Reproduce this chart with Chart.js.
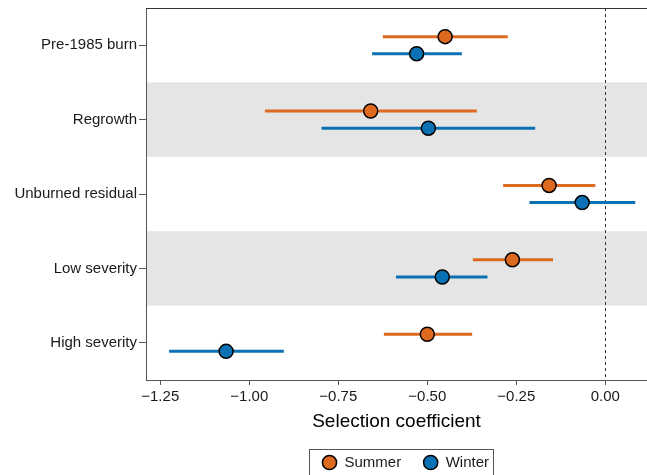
<!DOCTYPE html>
<html>
<head>
<meta charset="utf-8">
<script src="https://cdn.jsdelivr.net/npm/chart.js@4.4.1/dist/chart.umd.min.js"></script>
<style>
  html, body { margin: 0; padding: 0; background: #fff; }
  #wrap { width: 647px; height: 475px; }
</style>
</head>
<body>
<div id="wrap"><canvas id="chart" width="647" height="475"></canvas></div>
<script>
// habitat classes, top to bottom
const CATEGORIES = ['Pre-1985 burn', 'Regrowth', 'Unburned residual', 'Low severity', 'High severity'];

// selection coefficients with interval ends
const SUMMER_EST = [-0.450, -0.659, -0.158, -0.261, -0.500];
const SUMMER_LO = [-0.625, -0.956, -0.287, -0.372, -0.622];
const SUMMER_HI = [-0.274, -0.361, -0.028, -0.147, -0.374];

const WINTER_EST = [-0.530, -0.497, -0.065, -0.458, -1.065];
const WINTER_LO = [-0.655, -0.797, -0.213, -0.588, -1.225];
const WINTER_HI = [-0.403, -0.197, 0.084, -0.331, -0.903];

const X_TICKS = [-1.25, -1.0, -0.75, -0.5, -0.25, 0];
const SHADED_ROWS = [1, 3];

const SUMMER_COLOR = '#DD6A1F';
const WINTER_COLOR = '#0A72B4';
const DODGE = 0.115;
const LEGEND_SHIFT = 9; // ggplot centres the legend a bit right of the canvas middle
const FONT = "'Liberation Sans', Arial, Helvetica, sans-serif";

Chart.defaults.font.family = FONT;

function toPoints(est, lo, hi, shift) {
  return est.map((v, i) => ({ x: v, y: i + shift, lo: lo[i], hi: hi[i] }));
}

const forestPlugin = {
  id: 'forest',
  afterLayout(chart) {
    const lg = chart.legend;
    lg.left += LEGEND_SHIFT;
    lg.right += LEGEND_SHIFT;
    lg.legendHitBoxes.forEach((h) => { h.left += LEGEND_SHIFT; });
  },
  beforeDraw(chart) {
    const { ctx, chartArea: a, scales: { y } } = chart;
    ctx.save();
    ctx.fillStyle = '#e5e5e5';
    SHADED_ROWS.forEach((i) => {
      const t = y.getPixelForValue(i - 0.5);
      const b = y.getPixelForValue(i + 0.5);
      ctx.fillRect(a.left, Math.min(t, b), a.right - a.left, Math.abs(b - t));
    });
    ctx.restore();
  },
  beforeDatasetsDraw(chart) {
    const { ctx, chartArea: a, scales: { x, y } } = chart;
    ctx.save();
    // zero reference
    const zx = Math.round(x.getPixelForValue(0)) + 0.5;
    ctx.strokeStyle = '#333';
    ctx.lineWidth = 1;
    ctx.setLineDash([3, 3]);
    ctx.beginPath();
    ctx.moveTo(zx, a.top);
    ctx.lineTo(zx, a.bottom);
    ctx.stroke();
    ctx.setLineDash([]);
    // interval bars
    chart.data.datasets.forEach((ds) => {
      ctx.strokeStyle = ds.backgroundColor;
      ctx.lineWidth = 3;
      ds.data.forEach((p) => {
        const py = y.getPixelForValue(p.y);
        ctx.beginPath();
        ctx.moveTo(x.getPixelForValue(p.lo), py);
        ctx.lineTo(x.getPixelForValue(p.hi), py);
        ctx.stroke();
      });
    });
    ctx.restore();
  },
  afterDraw(chart) {
    const { ctx, chartArea: a } = chart;
    ctx.save();
    ctx.strokeStyle = '#333';
    ctx.lineWidth = 1;
    ctx.beginPath();
    ctx.moveTo(a.left, a.top + 0.5);
    ctx.lineTo(a.right, a.top + 0.5);
    ctx.stroke();
    // frame round the legend
    const boxes = chart.legend.legendHitBoxes;
    if (boxes.length) {
      const l = boxes[0].left - 13;
      const last = boxes[boxes.length - 1];
      const r = last.left + last.width + 4;
      const t = boxes[0].top - 6;
      const b = boxes[0].top + boxes[0].height + 8;
      ctx.strokeStyle = '#555';
      ctx.strokeRect(Math.round(l) + 0.5, Math.round(t) + 0.5, Math.round(r - l), Math.round(b - t));
    }
    ctx.restore();
  },
};

new Chart(document.getElementById('chart'), {
  type: 'scatter',
  data: {
    datasets: [
      {
        label: 'Summer',
        data: toPoints(SUMMER_EST, SUMMER_LO, SUMMER_HI, -DODGE),
        backgroundColor: SUMMER_COLOR,
        borderColor: '#000',
        borderWidth: 1.5,
        pointRadius: 7,
      },
      {
        label: 'Winter',
        data: toPoints(WINTER_EST, WINTER_LO, WINTER_HI, DODGE),
        backgroundColor: WINTER_COLOR,
        borderColor: '#000',
        borderWidth: 1.5,
        pointRadius: 7,
      },
    ],
  },
  options: {
    responsive: false,
    animation: false,
    layout: { autoPadding: false, padding: { top: 8, left: 0, right: 0, bottom: -5 } },
    scales: {
      x: {
        type: 'linear',
        min: -1.29,
        max: 0.117,
        afterBuildTicks: (s) => { s.ticks = X_TICKS.map((v) => ({ value: v })); },
        afterFit: (s) => { s.height = 53; s.paddingLeft = 0; s.paddingRight = 0; },
        ticks: {
          callback: (v) => v.toFixed(2).replace('-', '\u2212'),
          font: { size: 15 },
          color: '#1a1a1a',
          padding: 3,
          maxRotation: 0,
          autoSkip: false,
        },
        grid: { drawOnChartArea: false, tickLength: 5, color: '#555' },
        border: { color: '#555' },
        title: {
          display: true,
          text: 'Selection coefficient',
          font: { size: 19 },
          color: '#000',
          padding: { top: 4, bottom: 0 },
        },
      },
      y: {
        type: 'linear',
        reverse: true,
        min: -0.5,
        max: 4.5,
        afterBuildTicks: (s) => { s.ticks = CATEGORIES.map((_, i) => ({ value: i })); },
        afterFit: (s) => { s.width = 146; s.paddingTop = 0; s.paddingBottom = 0; },
        ticks: {
          callback: (v) => CATEGORIES[v],
          font: { size: 15 },
          color: '#1a1a1a',
          padding: 2,
          autoSkip: false,
        },
        grid: { drawOnChartArea: false, tickLength: 7, color: '#555' },
        border: { color: '#555' },
      },
    },
    plugins: {
      legend: {
        position: 'bottom',
        fullSize: false,
        labels: {
          usePointStyle: true,
          pointStyle: 'circle',
          boxWidth: 15,
          boxHeight: 10,
          padding: 22,
          font: { size: 15 },
          color: '#1a1a1a',
        },
      },
      tooltip: { enabled: false },
    },
  },
  plugins: [forestPlugin],
});
</script>
</body>
</html>
